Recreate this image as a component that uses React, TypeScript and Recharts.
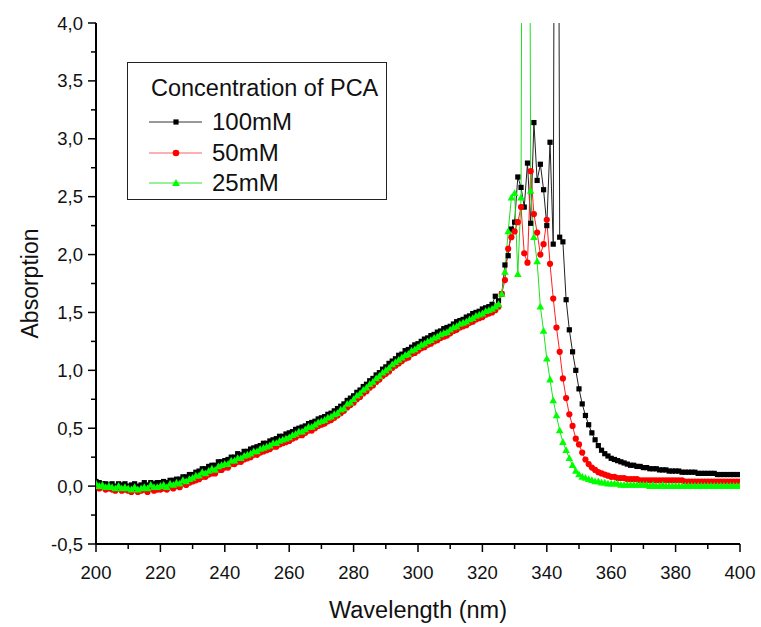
import React from 'react';
import { LineChart, Line, XAxis, YAxis, Legend, Label } from 'recharts';

const WL_START = 200;

const conc100 = [
  0.04, 0.03, 0.02, 0.02, 0.01, 0.02, 0.00, 0.02, 0.01, 0.02,
  0.00, 0.01, 0.02, 0.00, 0.01, 0.03, 0.01, 0.03, 0.02, 0.03,
  0.03, 0.04, 0.03, 0.05, 0.05, 0.06, 0.06, 0.08, 0.08, 0.10,
  0.10, 0.12, 0.13, 0.15, 0.15, 0.17, 0.18, 0.18, 0.21, 0.21,
  0.22, 0.23, 0.25, 0.25, 0.28, 0.27, 0.30, 0.30, 0.32, 0.33,
  0.34, 0.35, 0.37, 0.37, 0.39, 0.40, 0.41, 0.43, 0.43, 0.45,
  0.46, 0.47, 0.49, 0.50, 0.51, 0.52, 0.54, 0.55, 0.56, 0.58,
  0.59, 0.60, 0.62, 0.63, 0.65, 0.67, 0.69, 0.71, 0.74, 0.76,
  0.78, 0.81, 0.83, 0.86, 0.88, 0.91, 0.93, 0.96, 0.98, 1.01,
  1.03, 1.06, 1.08, 1.10, 1.13, 1.14, 1.17, 1.18, 1.20, 1.22,
  1.23, 1.25, 1.27, 1.28, 1.30, 1.31, 1.33, 1.34, 1.36, 1.37,
  1.38, 1.40, 1.42, 1.43, 1.44, 1.46, 1.47, 1.49, 1.50, 1.51,
  1.53, 1.54, 1.55, 1.57, 1.64,
  1.60, 1.66, 1.91, 1.99, 2.22, 2.28, 2.67, 2.58, 2.41, 2.79,
  2.27, 3.14, 2.64, 2.78, 2.56, 2.25, 2.97, 2.09, 12, 2.15,
  2.11, 1.61, 1.35, 1.16, 1.00, 0.84, 0.71, 0.61, 0.53, 0.46,
  0.40, 0.35, 0.31, 0.28, 0.26, 0.24, 0.23, 0.22, 0.21, 0.20,
  0.19, 0.18, 0.18, 0.17, 0.17, 0.16, 0.16, 0.15, 0.15, 0.15,
  0.14, 0.14, 0.14, 0.13, 0.13, 0.13, 0.13, 0.12, 0.12, 0.12,
  0.12, 0.12, 0.11, 0.11, 0.11, 0.11, 0.11, 0.11, 0.10, 0.10,
  0.10, 0.10, 0.10, 0.10, 0.10, 0.10,
];

const conc50 = [
  0.00, -0.02, -0.01, -0.03, -0.02, -0.03, -0.04, -0.02, -0.04, -0.03,
  -0.04, -0.05, -0.03, -0.05, -0.04, -0.03, -0.05, -0.02, -0.04, -0.03,
  -0.03, -0.02, -0.03, -0.01, -0.02, 0.00, -0.01, 0.02, 0.01, 0.03,
  0.04, 0.05, 0.06, 0.08, 0.08, 0.10, 0.11, 0.11, 0.14, 0.14,
  0.16, 0.16, 0.19, 0.19, 0.21, 0.21, 0.23, 0.24, 0.25, 0.27,
  0.27, 0.29, 0.30, 0.31, 0.32, 0.34, 0.34, 0.36, 0.37, 0.38,
  0.39, 0.41, 0.42, 0.44, 0.44, 0.46, 0.48, 0.48, 0.50, 0.52,
  0.53, 0.54, 0.56, 0.57, 0.59, 0.61, 0.63, 0.65, 0.68, 0.70,
  0.72, 0.75, 0.77, 0.80, 0.82, 0.85, 0.87, 0.90, 0.92, 0.95,
  0.97, 0.99, 1.02, 1.04, 1.06, 1.08, 1.10, 1.11, 1.14, 1.15,
  1.17, 1.19, 1.20, 1.22, 1.23, 1.25, 1.26, 1.28, 1.29, 1.30,
  1.32, 1.34, 1.35, 1.37, 1.38, 1.39, 1.41, 1.42, 1.44, 1.45,
  1.46, 1.48, 1.49, 1.50, 1.52,
  1.55, 1.66, 1.78, 2.05, 2.15, 2.20, 2.28, 2.41, 2.01, 1.93,
  2.72, 2.35, 2.19, 2.00, 2.09, 2.30, 1.92, 1.62, 1.37, 1.16,
  0.93, 0.76, 0.62, 0.52, 0.41, 0.36, 0.29, 0.23, 0.19, 0.16,
  0.14, 0.12, 0.11, 0.10, 0.09, 0.08, 0.08, 0.07, 0.07, 0.07,
  0.06, 0.06, 0.06, 0.06, 0.05, 0.05, 0.05, 0.05, 0.05, 0.05,
  0.05, 0.05, 0.05, 0.05, 0.05, 0.05, 0.05, 0.05, 0.04, 0.04,
  0.04, 0.04, 0.04, 0.04, 0.04, 0.04, 0.04, 0.04, 0.04, 0.04,
  0.04, 0.04, 0.04, 0.04, 0.04, 0.04,
];

const conc25 = [
  0.02, 0.00, 0.01, -0.01, 0.00, -0.01, -0.02, 0.00, -0.02, -0.01,
  -0.02, -0.03, -0.01, -0.03, -0.02, -0.01, -0.02, 0.01, -0.01, -0.01,
  0.00, 0.01, -0.01, 0.02, 0.01, 0.03, 0.02, 0.05, 0.04, 0.06,
  0.07, 0.09, 0.09, 0.12, 0.11, 0.13, 0.15, 0.14, 0.17, 0.18,
  0.19, 0.19, 0.22, 0.22, 0.24, 0.24, 0.26, 0.27, 0.28, 0.30,
  0.30, 0.32, 0.33, 0.34, 0.35, 0.37, 0.37, 0.39, 0.40, 0.41,
  0.42, 0.44, 0.45, 0.47, 0.47, 0.49, 0.51, 0.51, 0.53, 0.55,
  0.56, 0.57, 0.59, 0.60, 0.62, 0.63, 0.66, 0.67, 0.71, 0.72,
  0.75, 0.78, 0.80, 0.83, 0.85, 0.88, 0.90, 0.93, 0.95, 0.98,
  1.00, 1.02, 1.05, 1.07, 1.09, 1.11, 1.13, 1.14, 1.17, 1.18,
  1.20, 1.22, 1.23, 1.25, 1.26, 1.28, 1.29, 1.31, 1.32, 1.33,
  1.35, 1.37, 1.38, 1.40, 1.41, 1.42, 1.44, 1.45, 1.47, 1.48,
  1.49, 1.51, 1.52, 1.53, 1.55,
  1.57, 1.66, 1.85, 2.20, 2.49, 2.53, 1.83, 2.49, 12, 12,
  2.55, 2.15, 1.94, 1.55, 1.34, 1.10, 0.92, 0.74, 0.61, 0.48,
  0.38, 0.31, 0.24, 0.18, 0.13, 0.10, 0.08, 0.07, 0.06, 0.05,
  0.04, 0.04, 0.03, 0.03, 0.02, 0.02, 0.02, 0.02, 0.01, 0.01,
  0.01, 0.01, 0.01, 0.01, 0.01, 0.01, 0.01, 0.00, 0.01, 0.00,
  0.00, 0.01, 0.00, 0.00, 0.00, 0.00, 0.00, 0.00, 0.00, 0.00,
  0.00, 0.00, 0.00, 0.00, 0.00, 0.00, 0.00, 0.00, 0.00, 0.00,
  0.00, 0.00, 0.00, 0.00, 0.00, 0.00,
];

const xTicks = [200, 210, 220, 230, 240, 250, 260, 270, 280, 290, 300, 310, 320, 330, 340, 350, 360, 370, 380, 390, 400];
const xMajor = [200, 220, 240, 260, 280, 300, 320, 340, 360, 380, 400];
const yTicks = [-0.5, -0.25, 0, 0.25, 0.5, 0.75, 1, 1.25, 1.5, 1.75, 2, 2.25, 2.5, 2.75, 3, 3.25, 3.5, 3.75, 4];

const seriesNames = ['100mM', '50mM', '25mM'];

const data = conc100.map((v, i) => ({
  nm: WL_START + i,
  c100: v,
  c50: conc50[i],
  c25: conc25[i],
}));

const FONT = '"Liberation Sans", Arial, sans-serif';

const isYMajor = (v: number) => Math.abs(v * 2 - Math.round(v * 2)) < 1e-6;
const fmtY = (v: number) => v.toFixed(1).replace('.', ',');

const SquareDot = (p: any) => {
  const { cx, cy, index } = p;
  if (cx == null || cy == null) return <g key={`s${index}`} />;
  return <rect key={`s${index}`} x={cx - 2.6} y={cy - 2.6} width={5.2} height={5.2} fill="#000" />;
};
const CircleDot = (p: any) => {
  const { cx, cy, index } = p;
  if (cx == null || cy == null) return <g key={`c${index}`} />;
  return <circle key={`c${index}`} cx={cx} cy={cy} r={3.1} fill="#ff0000" />;
};
const TriDot = (p: any) => {
  const { cx, cy, index } = p;
  if (cx == null || cy == null) return <g key={`t${index}`} />;
  return (
    <polygon
      key={`t${index}`}
      points={`${cx},${cy - 4} ${cx - 3.8},${cy + 2.8} ${cx + 3.8},${cy + 2.8}`}
      fill="#00ff00"
    />
  );
};

const BottomTick = (p: any) => {
  const { x, y, payload } = p;
  const major = xMajor.includes(payload.value);
  return (
    <g>
      <line x1={x} y1={y} x2={x} y2={y + (major ? 8 : 5)} stroke="#000" strokeWidth={1.5} />
      {major && (
        <text x={x} y={y + 28} textAnchor="middle" dominantBaseline="central" fontSize={18.5} fontFamily={FONT} fill="#111">
          {payload.value}
        </text>
      )}
    </g>
  );
};

const TopTick = (p: any) => {
  const { x, y, payload } = p;
  const major = xMajor.includes(payload.value);
  return <line x1={x} y1={y} x2={x} y2={y + (major ? 9 : 5)} stroke="#000" strokeWidth={1.5} />;
};

const LeftTick = (p: any) => {
  const { x, y, payload } = p;
  const major = isYMajor(payload.value);
  const len = major ? 8 : 5;
  return (
    <g>
      <line x1={x - len} y1={y} x2={x} y2={y} stroke="#000" strokeWidth={1.5} />
      {major && (
        <text x={x - 13} y={y} textAnchor="end" dominantBaseline="central" fontSize={18.5} fontFamily={FONT} fill="#111">
          {fmtY(payload.value)}
        </text>
      )}
    </g>
  );
};

const RightTick = (p: any) => {
  const { x, y, payload } = p;
  const major = isYMajor(payload.value);
  const len = major ? 8 : 5;
  return <line x1={x - len} y1={y} x2={x} y2={y} stroke="#000" strokeWidth={1.5} />;
};

const legendItems = [
  { name: seriesNames[0], line: '#333', mark: 'square', color: '#000' },
  { name: seriesNames[1], line: '#ff6060', mark: 'circle', color: '#ff0000' },
  { name: seriesNames[2], line: '#30e030', mark: 'tri', color: '#00ff00' },
];

const LegendBox = () => (
  <div
    style={{
      position: 'relative',
      width: 260,
      height: 138,
      border: '1.5px solid #222',
      boxSizing: 'border-box',
      background: '#fff',
      fontFamily: FONT,
      color: '#111',
    }}
  >
    <div style={{ position: 'absolute', left: 23, top: 26, transform: 'translateY(-50%)', fontSize: 23.5, whiteSpace: 'nowrap', lineHeight: 1 }}>
      Concentration of PCA
    </div>
    {legendItems.map((it, i) => {
      const cy = 59 + i * 30.5;
      return (
        <div key={it.name}>
          <svg style={{ position: 'absolute', left: 20, top: cy - 8 }} width={56} height={16}>
            <line x1={1} y1={8} x2={54} y2={8} stroke={it.line} strokeWidth={1} />
            {it.mark === 'square' && <rect x={25.4} y={5.4} width={5.2} height={5.2} fill={it.color} />}
            {it.mark === 'circle' && <circle cx={28} cy={8} r={3.3} fill={it.color} />}
            {it.mark === 'tri' && <polygon points="28,4 24,11 32,11" fill={it.color} />}
          </svg>
          <div style={{ position: 'absolute', left: 84, top: cy, transform: 'translateY(-50%)', fontSize: 24, lineHeight: 1, whiteSpace: 'nowrap' }}>
            {it.name}
          </div>
        </div>
      );
    })}
  </div>
);

export default function App() {
  return (
    <div style={{ position: 'absolute', left: 0, top: 0, width: 761, height: 627, background: '#fff' }}>
      <LineChart width={761} height={627} data={data} margin={{ top: 23, right: 21, bottom: 23, left: 0 }}>
        <XAxis
          dataKey="nm"
          type="number"
          domain={[200, 400]}
          allowDataOverflow
          ticks={xTicks}
          interval={0}
          height={60}
          tickSize={0}
          tickMargin={0}
          tickLine={false}
          axisLine={{ stroke: '#000', strokeWidth: 2 }}
          tick={<BottomTick />}
        >
          <Label
            content={(props: any) => {
              const vb = props.viewBox;
              return (
                <text x={vb.x + vb.width / 2} y={vb.y + 66} textAnchor="middle" dominantBaseline="central" fontSize={23.5} fontFamily={FONT} fill="#111">
                  Wavelength (nm)
                </text>
              );
            }}
          />
        </XAxis>
        <XAxis
          xAxisId="top"
          dataKey="nm"
          type="number"
          orientation="top"
          domain={[200, 400]}
          allowDataOverflow
          ticks={xTicks}
          interval={0}
          height={0}
          tickSize={0}
          tickMargin={0}
          tickLine={false}
          axisLine={{ stroke: '#000', strokeWidth: 2 }}
          tick={<TopTick />}
        />
        <YAxis
          type="number"
          domain={[-0.5, 4]}
          allowDataOverflow
          ticks={yTicks}
          interval={0}
          width={96}
          tickSize={0}
          tickMargin={0}
          tickLine={false}
          axisLine={{ stroke: '#000', strokeWidth: 2 }}
          tick={<LeftTick />}
        >
          <Label
            content={(props: any) => {
              const vb = props.viewBox;
              const cx = vb.x + 30;
              const cy = vb.y + vb.height / 2;
              return (
                <text x={cx} y={cy} transform={`rotate(-90 ${cx} ${cy})`} textAnchor="middle" dominantBaseline="central" fontSize={23} fontFamily={FONT} fill="#111">
                  Absorption
                </text>
              );
            }}
          />
        </YAxis>
        <YAxis
          yAxisId="right"
          orientation="right"
          type="number"
          domain={[-0.5, 4]}
          allowDataOverflow
          ticks={yTicks}
          interval={0}
          width={0}
          tickSize={0}
          tickMargin={0}
          tickLine={false}
          axisLine={{ stroke: '#000', strokeWidth: 2 }}
          tick={<RightTick />}
        />
        <Legend
          layout="horizontal"
          align="center"
          verticalAlign="middle"
          content={<LegendBox />}
          wrapperStyle={{ position: 'absolute', left: 127, top: 62, width: 260, height: 138 }}
        />
        <Line type="linear" dataKey="c100" name={seriesNames[0]} stroke="#222" strokeWidth={1} dot={SquareDot} activeDot={false} isAnimationActive={false} />
        <Line type="linear" dataKey="c50" name={seriesNames[1]} stroke="#ff2020" strokeWidth={1} dot={CircleDot} activeDot={false} isAnimationActive={false} />
        <Line type="linear" dataKey="c25" name={seriesNames[2]} stroke="#20e020" strokeWidth={1} dot={TriDot} activeDot={false} isAnimationActive={false} />
      </LineChart>
    </div>
  );
}
